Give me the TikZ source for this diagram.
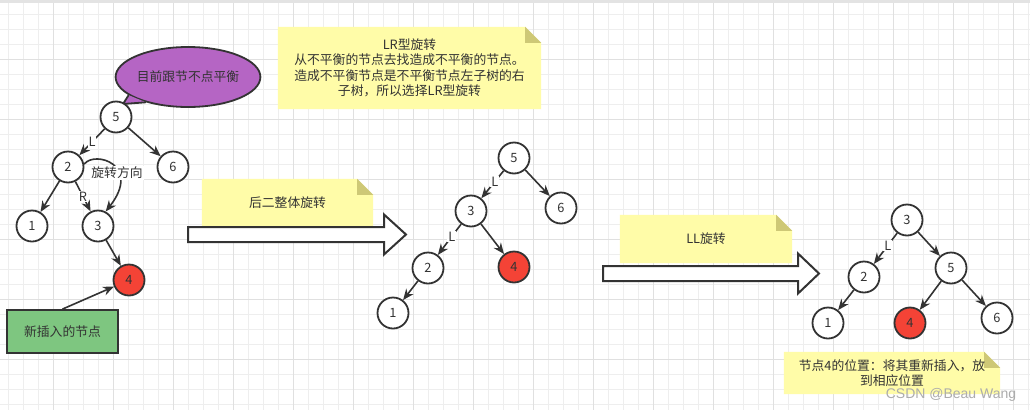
\documentclass[tikz,border=0pt]{standalone}
\usepackage{fontspec}
\setmainfont{Noto Sans CJK SC}
\newfontfamily\markfont{Liberation Sans}
\usetikzlibrary{arrows.meta,shapes.geometric,backgrounds}
\pgfdeclarelayer{gridlayer}
\pgfsetlayers{gridlayer,background,main}

\definecolor{linegray}{RGB}{51,51,51}
\definecolor{gridminor}{RGB}{238,238,238}
\definecolor{gridmajor}{RGB}{224,224,224}
\definecolor{notefill}{RGB}{255,252,168}
\definecolor{notefold}{RGB}{206,200,118}
\definecolor{nodered}{RGB}{244,67,54}
\definecolor{callpurple}{RGB}{181,101,196}
\definecolor{newgreen}{RGB}{126,198,128}

\begin{document}
\begin{tikzpicture}[
    x=1pt, y=-1pt,
    font=\fontsize{12.8}{15.5}\selectfont,
    >={Stealth[length=11pt,width=9pt]},
    treenode/.style={
        circle,
        draw=linegray,
        fill=white,
        line width=1.8pt,
        minimum size=31pt,
        inner sep=0pt,
        text=linegray
    },
    rednode/.style={
        treenode,
        fill=nodered
    },
    edge/.style={
        ->,
        draw=linegray,
        line width=1.6pt
    },
    lbl/.style={
        fill=white,
        inner sep=1pt,
        text=linegray
    },
    notebox/.style 2 args={
        minimum width=#1,
        minimum height=#2,
        align=center,
        inner sep=0pt,
        text=linegray
    },
    bigarrow/.style={
        draw=linegray,
        fill=white,
        line width=2pt,
        line join=miter
    },
    callbubble/.style={
        ellipse,
        draw=linegray,
        fill=callpurple,
        line width=1.8pt,
        minimum width=133pt,
        minimum height=60pt,
        inner sep=0pt,
        text=linegray
    },
    newbox/.style={
        draw=linegray,
        fill=newgreen,
        line width=1.8pt,
        minimum width=111pt,
        minimum height=43pt,
        text=linegray
    }
]
\useasboundingbox (0,0) rectangle (1030,410);

% Grid paper
\begin{pgfonlayer}{gridlayer}
    \fill[white] (0,0) rectangle (1030,410);
    \foreach \gx in {8,23,...,1028} \draw[gridminor, line width=0.8pt] (\gx,0) -- (\gx,410);
    \foreach \gy in {14,29,...,404} \draw[gridminor, line width=0.8pt] (0,\gy) -- (1030,\gy);
    \foreach \gx in {53,113,...,1013} \draw[gridmajor, line width=0.8pt] (\gx,0) -- (\gx,410);
    \foreach \gy in {59,119,...,359} \draw[gridmajor, line width=0.8pt] (0,\gy) -- (1030,\gy);
    \fill[gray!22] (0,0) rectangle (1030,3);
\end{pgfonlayer}

% Notes
\node[notebox={263pt}{82pt}] (lrnote) at (409.5,68) {LR型旋转\\从不平衡的节点去找造成不平衡的节点。\\造成不平衡节点是不平衡节点左子树的右\\子树，所以选择LR型旋转};
\node[notebox={171pt}{48pt}] (rotnote) at (287.5,203) {后二整体旋转};
\node[notebox={172pt}{48pt}] (llnote) at (706,239) {LL旋转};
\node[notebox={216pt}{42pt}] (posnote) at (892,373) {节点4的位置：将其重新插入，放\\到相应位置};

\begin{scope}[on background layer]
    \foreach \n in {lrnote,rotnote,llnote,posnote} {
        \fill[notefill] (\n.south west) -- (\n.north west) -- ([xshift=-16pt]\n.north east)
            -- ([yshift=-16pt]\n.north east) -- (\n.south east) -- cycle;
        \fill[notefold] ([xshift=-16pt]\n.north east) -- ([xshift=-16pt,yshift=-16pt]\n.north east)
            -- ([yshift=-16pt]\n.north east) -- cycle;
    }
\end{scope}

% Tree before rotation
\node[callbubble] (call) at (188,77) {目前跟节不点平衡};
\coordinate (calltip) at (123,104);
\fill[callpurple] (call.197) -- (calltip) -- (call.211) -- cycle;
\draw[linegray, line width=1.8pt, line join=round] (call.197) -- (calltip) -- (call.211);

\node[treenode] (a5) at (116,117) {5};
\node[treenode] (a2) at (68,167) {2};
\node[treenode] (a6) at (173,167) {6};
\node[treenode] (a1) at (32,226) {1};
\node[treenode] (a3) at (98,226) {3};
\node[rednode] (a4) at (129,280) {4};
\node[newbox] (new) at (62.5,331.5) {新插入的节点};

\draw[edge] (a5) -- node[lbl] {L} (a2);
\draw[edge] (a5) -- (a6);
\draw[edge] (a2) -- (a1);
\draw[edge] (a2) -- node[lbl] {R} (a3);
\draw[edge] (a3) -- (a4);
\draw[edge] (a2.10) .. controls (95,150) and (142,165) .. (a3.62);
\node[lbl] (turn) at (117,173) {旋转方向};
\draw[edge] (new.north) -- (a4);

% Big arrows
\foreach \xa/\xb/\xc/\ym in {188/384/406/234.5, 603/798/819/273.5} {
    \draw[bigarrow] (\xa,\ym-7.5) -- (\xb,\ym-7.5) -- (\xb,\ym-20) -- (\xc,\ym)
        -- (\xb,\ym+20) -- (\xb,\ym+7.5) -- (\xa,\ym+7.5) -- cycle;
}

% Tree after first rotation
\node[treenode] (b5) at (514,158) {5};
\node[treenode] (b3) at (471,211) {3};
\node[treenode] (b6) at (561,208) {6};
\node[treenode] (b2) at (428,268) {2};
\node[rednode] (b4) at (514,267) {4};
\node[treenode] (b1) at (393,313) {1};

\draw[edge] (b5) -- node[lbl, pos=0.4] {L} (b3);
\draw[edge] (b5) -- (b6);
\draw[edge] (b3) -- node[lbl, pos=0.4] {L} (b2);
\draw[edge] (b3) -- (b4);
\draw[edge] (b2) -- (b1);

% Tree after LL rotation
\node[treenode] (c3) at (907,220) {3};
\node[treenode] (c2) at (864,277) {2};
\node[treenode] (c5) at (951,268) {5};
\node[treenode] (c1) at (828,323) {1};
\node[rednode] (c4) at (910,323) {4};
\node[treenode] (c6) at (997,318) {6};

\draw[edge] (c3) -- node[lbl, pos=0.4] {L} (c2);
\draw[edge] (c3) -- (c5);
\draw[edge] (c2) -- (c1);
\draw[edge] (c5) -- (c4);
\draw[edge] (c5) -- (c6);

\node[text=gray!65, font=\markfont\fontsize{14}{16}\selectfont] (csdn) at (951,395) {CSDN @Beau Wang};

\end{tikzpicture}
\end{document}
